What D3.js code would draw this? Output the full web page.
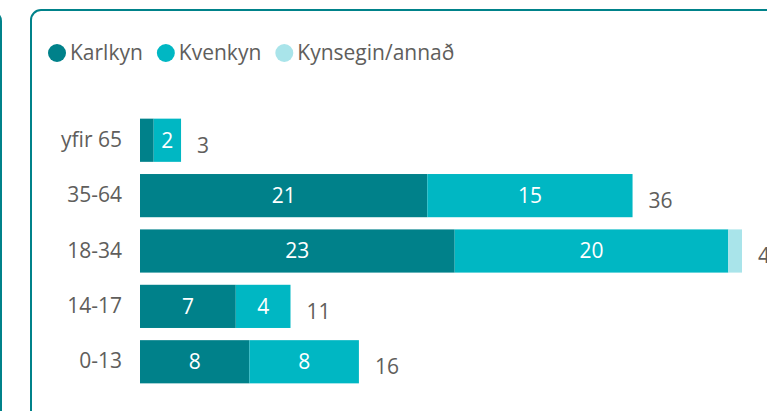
<!DOCTYPE html>
<html>
<head>
<meta charset="utf-8">
<script src="https://cdn.jsdelivr.net/npm/d3@7"></script>
<style>
  body { margin: 0; background: #fff; overflow: hidden; }
  svg { display: block; font-family: "Segoe UI", "Open Sans", sans-serif; font-weight: 400; }
</style>
</head>
<body>
<div id="container"></div>
<script>
/* DATA */
const ageGroups = ["yfir 65", "35-64", "18-34", "14-17", "0-13"];
const seriesNames = ["Karlkyn", "Kvenkyn", "Kynsegin/annað"];
const karlkyn = [1, 21, 23, 7, 8];
const kvenkyn = [2, 15, 20, 4, 8];
const kynsegin = [0, 0, 1, 0, 0];
const colors = ["#00818a", "#00b7c3", "#a9e4ea"];

const width = 767, height = 411;
const margin = { top: 112, left: 140 };
const fontSize = '21px';

const rows = ageGroups.map((g, i) => ({
  group: g, Karlkyn: karlkyn[i], Kvenkyn: kvenkyn[i], "Kynsegin/annað": kynsegin[i]
}));
rows.forEach(d => d.total = d.Karlkyn + d.Kvenkyn + d["Kynsegin/annað"]);

const svg = d3.select('#container')
  .append('svg')
  .attr('width', width)
  .attr('height', height);

// cards
svg.append('rect')
  .attr('x', -300).attr('y', 11).attr('width', 301).attr('height', 460)
  .attr('rx', 10)
  .attr('fill', 'none').attr('stroke', '#00828a').attr('stroke-width', 2);
svg.append('rect')
  .attr('x', 31).attr('y', 10).attr('width', 800).attr('height', 460)
  .attr('rx', 10)
  .attr('fill', 'none').attr('stroke', '#00828a').attr('stroke-width', 2);

// scales
const xScale = d3.scaleLinear()
  .domain([0, 44])
  .range([margin.left, 742]);

const yScale = d3.scaleBand()
  .domain(ageGroups)
  .range([margin.top, 390])
  .paddingInner(0.22)
  .paddingOuter(0.12);

const stack = d3.stack().keys(seriesNames)(rows);

const chart = svg.append('g');

chart.selectAll('g.series')
  .data(stack)
  .join('g')
  .attr('class', 'series')
  .attr('fill', (d, i) => colors[i])
  .selectAll('rect')
  .data(d => d)
  .join('rect')
  .attr('x', d => xScale(d[0]))
  .attr('y', d => yScale(d.data.group))
  .attr('width', d => xScale(d[1]) - xScale(d[0]))
  .attr('height', yScale.bandwidth());

// labels inside bars
chart.selectAll('g.inlabels')
  .data(stack)
  .join('g')
  .attr('class', 'inlabels')
  .selectAll('text')
  .data(d => d.filter(s => xScale(s[1]) - xScale(s[0]) > 20))
  .join('text')
  .attr('x', d => (xScale(d[0]) + xScale(d[1])) / 2)
  .attr('y', d => yScale(d.data.group) + yScale.bandwidth() / 2)
  .attr('dy', '0.35em')
  .attr('text-anchor', 'middle')
  .attr('fill', '#fff')
  .attr('font-size', fontSize)
  .text(d => d[1] - d[0]);

// totals
chart.selectAll('text.total')
  .data(rows)
  .join('text')
  .attr('class', 'total')
  .attr('x', d => xScale(d.total) + 16)
  .attr('y', d => yScale(d.group) + yScale.bandwidth() / 2 + 5)
  .attr('dy', '0.35em')
  .attr('fill', '#605e5c')
  .attr('font-size', fontSize)
  .text(d => d.total);

// y axis
const yAxis = chart.append('g')
  .attr('transform', `translate(${margin.left - 18}, 0)`)
  .call(d3.axisLeft(yScale).tickSize(0).tickPadding(0));
yAxis.select('.domain').remove();
yAxis.selectAll('text')
  .attr('fill', '#605e5c')
  .attr('font-size', fontSize)
  .attr('font-family', '"Segoe UI", "Open Sans", sans-serif');

// legend
const legend = svg.append('g').attr('transform', 'translate(48, 53)');
let lx = 0;
seriesNames.forEach((name, i) => {
  const item = legend.append('g').attr('transform', `translate(${lx}, 0)`);
  item.append('circle').attr('cx', 9).attr('cy', 0).attr('r', 9).attr('fill', colors[i]);
  const t = item.append('text')
    .attr('x', 22).attr('y', 0).attr('dy', '0.35em')
    .attr('fill', '#605e5c').attr('font-size', fontSize)
    .text(name);
  lx += 22 + t.node().getComputedTextLength() + 14;
});
</script>
</body>
</html>
